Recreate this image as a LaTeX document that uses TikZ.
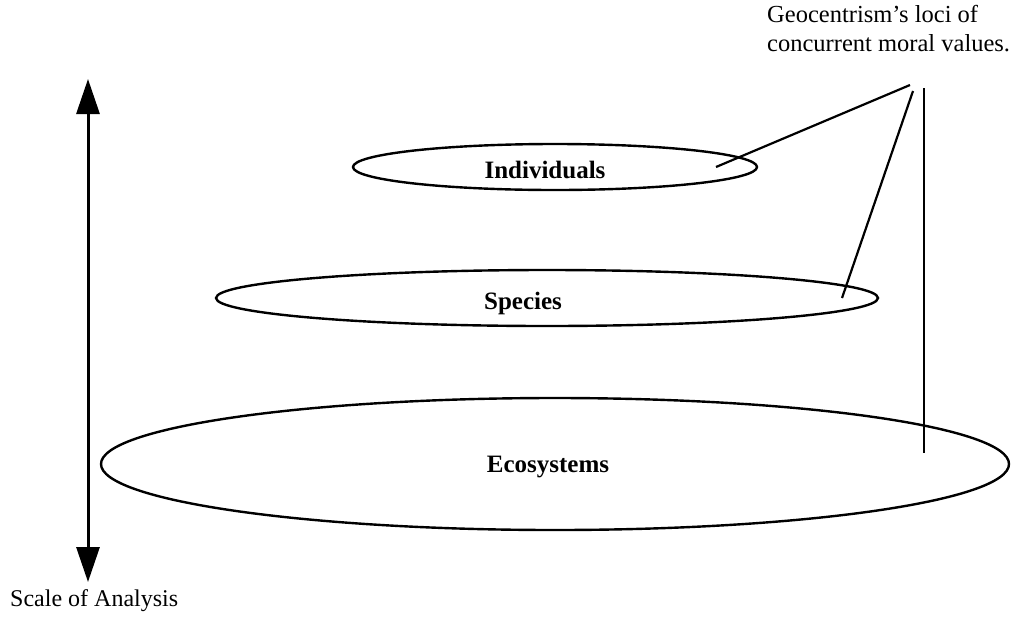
\documentclass[tikz,border=0pt]{standalone}
\usepackage{fontspec}
\setmainfont{Liberation Serif}
\usetikzlibrary{arrows.meta,shapes.geometric}
\tikzset{
  tier/.style={draw, ellipse, line width=2.4pt, inner sep=0pt},
  tiername/.style={font=\fontsize{25}{30}\selectfont\bfseries, anchor=base, inner sep=0pt},
  pointer/.style={line width=2.2pt},
  bigtip/.tip={Triangle[length=35pt,width=23pt]}
}
\begin{document}
\begin{tikzpicture}[x=1pt,y=-1pt]
\useasboundingbox (0,0) rectangle (1011,619);

% vertical axis
\coordinate (axtop) at (88,79);
\coordinate (axbot) at (88,582);
\draw[line width=3pt, bigtip-bigtip] (axtop) -- (axbot);
\node[anchor=base west, inner sep=0pt, font=\fontsize{24}{28}\selectfont] (scale) at (10,606) {Scale of Analysis};

% levels
\node[tier, minimum width=404pt, minimum height=46pt] (indiv) at (555,167) {};
\node[tier, minimum width=662pt, minimum height=56pt] (species) at (547,298) {};
\node[tier, minimum width=908pt, minimum height=132pt] (eco) at (555,464) {};
\node[tiername] (indivname) at (545,178) {Individuals};
\node[tiername] (speciesname) at (523,309) {Species};
\node[tiername] (econame) at (548,472) {Ecosystems};

% loci
\node[anchor=north west, inner sep=0pt, align=left, font=\fontsize{24.5}{29}\selectfont] (loci) at (767,5) {Geocentrism’s loci of\\concurrent moral values.};
\coordinate (locA) at (910,85);
\coordinate (locB) at (913,91);
\coordinate (locC) at (924,88);
\coordinate (indivpt) at (716,167);
\coordinate (speciespt) at (842,298);
\coordinate (ecopt) at (924,453);
\draw[pointer] (locA) -- (indivpt);
\draw[pointer] (locB) -- (speciespt);
\draw[pointer] (locC) -- (ecopt);
\end{tikzpicture}
\end{document}
